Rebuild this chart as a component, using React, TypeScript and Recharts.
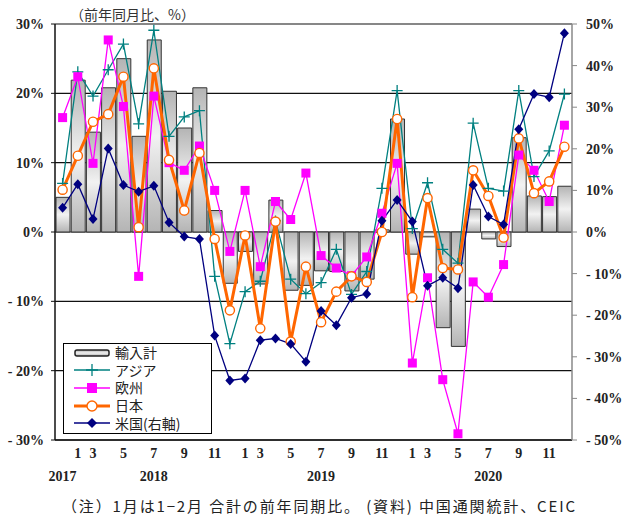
import { ComposedChart, Bar, Line, XAxis, YAxis, CartesianGrid, Legend } from 'recharts';

// 1月は1-2月合計なので、2月のカテゴリはない
const categories = [
  '2017/12',
  '2018/1', '2018/3', '2018/4', '2018/5', '2018/6', '2018/7', '2018/8', '2018/9', '2018/10', '2018/11', '2018/12',
  '2019/1', '2019/3', '2019/4', '2019/5', '2019/6', '2019/7', '2019/8', '2019/9', '2019/10', '2019/11', '2019/12',
  '2020/1', '2020/3', '2020/4', '2020/5', '2020/6', '2020/7', '2020/8', '2020/9', '2020/10', '2020/11', '2020/12',
];

const importTotal = [
  5.0, 21.9, 14.4, 20.8, 25.0, 13.8, 27.7, 20.3, 15.0, 20.8, 3.1, -7.4,
  -2.8, -7.5, 4.6, -8.4, -7.7, -5.6, -5.7, -8.5, -6.8, 0.3, 16.3,
  -3.2, -0.7, -13.8, -16.5, 3.3, -1.0, -2.1, 13.6, 5.2, 5.1, 6.6,
];
const asia = [
  7.0, 23.1, 19.6, 23.4, 27.1, 15.6, 29.1, 13.8, 16.6, 17.5, -6.4, -16.1,
  -8.6, -7.1, 1.6, -6.8, -8.9, -7.3, -2.5, -9.0, -5.7, 6.3, 20.4,
  0.5, 7.1, -2.5, -4.5, 15.7, 6.3, 5.9, 20.4, 8.0, 11.7, 19.9,
];
const europe = [
  16.5, 22.4, 9.9, 27.7, 18.1, -6.4, 19.6, 10.0, 8.9, 12.4, 6.0, -2.8,
  6.0, -5.0, 4.4, 1.8, 8.5, -3.4, -5.2, -6.3, -3.6, 2.7, 9.9,
  -18.9, -6.6, -21.3, -29.1, -7.2, -9.4, -4.7, 11.1, 8.9, 4.4, 15.4,
];
const japan = [
  6.1, 11.0, 15.9, 17.0, 22.4, 0.7, 23.6, 10.4, 3.1, 11.4, -1.0, -11.3,
  -0.5, -13.9, 1.5, -15.8, -5.0, -13.0, -8.6, -6.4, -7.2, 0.0, 16.3,
  -9.4, 4.9, -5.2, -5.4, 8.9, 5.2, -0.8, 13.5, 5.6, 7.3, 12.3,
];
// 右軸
const usa = [
  5.8, 11.5, 3.1, 20.1, 11.3, 9.7, 11.1, 2.3, -1.1, -1.7, -24.9, -35.7,
  -35.2, -26.0, -25.6, -26.9, -31.2, -19.0, -22.4, -15.8, -14.9, 2.7, 7.7,
  2.5, -12.9, -11.0, -13.5, 11.3, 3.7, 1.8, 24.7, 33.2, 32.4, 47.8,
];

const monthsShown = ['1', '3', '5', '7', '9', '11'];
const yearLabelAt: Record<string, string> = {
  '2017/12': '2017',
  '2018/7': '2018',
  '2019/7': '2019',
  '2020/7': '2020',
};
const leftTicks = [-30, -20, -10, 0, 10, 20, 30];
const rightTicks = [-50, -40, -30, -20, -10, 0, 10, 20, 30, 40, 50];

const data = categories.map((c, i) => ({
  c,
  imports: importTotal[i],
  asia: asia[i],
  europe: europe[i],
  japan: japan[i],
  usa: usa[i],
}));

const TEAL = '#008080';
const MAGENTA = '#ff00ff';
const ORANGE = '#ff6600';
const NAVY = '#000080';
const NUM_FONT = '"Liberation Serif", "DejaVu Serif", serif';
const JP_FONT = '"Noto Sans CJK JP", sans-serif';

const pct = (v: number) => (v < 0 ? `- ${Math.abs(v)}%` : `${v}%`);

const PlusDot = (p: any) => {
  const { cx, cy, index } = p;
  if (cx == null || cy == null) return <g key={`a${index}`} />;
  return (
    <path
      key={`a${index}`}
      d={`M${cx - 5.5},${cy}H${cx + 5.5}M${cx},${cy - 5.5}V${cy + 5.5}`}
      stroke={TEAL}
      strokeWidth={1.3}
    />
  );
};

const SquareDot = (p: any) => {
  const { cx, cy, index } = p;
  if (cx == null || cy == null) return <g key={`e${index}`} />;
  return <rect key={`e${index}`} x={cx - 4.5} y={cy - 4.5} width={9} height={9} fill={MAGENTA} />;
};

const CircleDot = (p: any) => {
  const { cx, cy, index } = p;
  if (cx == null || cy == null) return <g key={`j${index}`} />;
  return <circle key={`j${index}`} cx={cx} cy={cy} r={4.6} fill="#fff" stroke={ORANGE} strokeWidth={1.4} />;
};

const DiamondDot = (p: any) => {
  const { cx, cy, index } = p;
  if (cx == null || cy == null) return <g key={`u${index}`} />;
  return (
    <path
      key={`u${index}`}
      d={`M${cx},${cy - 5}L${cx + 4.5},${cy}L${cx},${cy + 5}L${cx - 4.5},${cy}Z`}
      fill={NAVY}
    />
  );
};

const MonthTick = (p: any) => {
  const { x, y, payload } = p;
  const key: string = payload.value;
  const m = key.split('/')[1];
  const yr = yearLabelAt[key];
  return (
    <g>
      {monthsShown.includes(m) && (
        <text x={x} y={y + 18} textAnchor="middle" fontFamily={NUM_FONT} fontWeight="bold" fontSize={14} fill="#222">
          {m}
        </text>
      )}
      {yr && (
        <text x={x} y={y + 41} textAnchor="middle" fontFamily={NUM_FONT} fontWeight="bold" fontSize={14} fill="#222">
          {yr}
        </text>
      )}
    </g>
  );
};

const legendItems = [
  { name: '輸入計', kind: 'bar' },
  { name: 'アジア', kind: 'plus' },
  { name: '欧州', kind: 'square' },
  { name: '日本', kind: 'circle' },
  { name: '米国(右軸)', kind: 'diamond' },
];

const LegendIcon = ({ kind }: { kind: string }) => {
  if (kind === 'bar') {
    return (
      <svg width={50} height={18} style={{ display: 'block' }}>
        <rect x={11} y={6} width={34} height={6} rx={2} fill="url(#legendGrad)" stroke="#222" strokeWidth={1.5} />
      </svg>
    );
  }
  const color = kind === 'plus' ? TEAL : kind === 'square' ? MAGENTA : kind === 'circle' ? ORANGE : NAVY;
  return (
    <svg width={50} height={18} style={{ display: 'block' }}>
      <line x1={10} y1={9} x2={46} y2={9} stroke={color} strokeWidth={kind === 'circle' ? 3 : 1.5} />
      {kind === 'plus' && <path d="M22,9H34M28,3V15" stroke={color} strokeWidth={1.3} />}
      {kind === 'square' && <rect x={23} y={4} width={10} height={10} fill={color} />}
      {kind === 'circle' && <circle cx={28} cy={9} r={5} fill="#fff" stroke={color} strokeWidth={1.4} />}
      {kind === 'diamond' && <path d="M28,4L33,9L28,14L23,9Z" fill={color} />}
    </svg>
  );
};

const LegendBox = () => (
  <div
    style={{
      width: 149,
      height: 91,
      border: '1.5px solid #000',
      background: '#fff',
      boxSizing: 'border-box',
      paddingTop: 0,
      fontFamily: JP_FONT,
      fontSize: 14,
      color: '#222',
    }}
  >
    {legendItems.map((item) => (
      <div key={item.name} style={{ display: 'flex', alignItems: 'center', height: 17.6 }}>
        <LegendIcon kind={item.kind} />
        <span
          style={{
            display: 'inline-block',
            height: 17,
            lineHeight: '17px',
            marginLeft: 1,
            whiteSpace: 'nowrap',
          }}
        >
          {item.name}
        </span>
      </div>
    ))}
  </div>
);

export default function App() {
  return (
    <div style={{ position: 'absolute', left: 0, top: 0, width: 628, height: 522, background: '#fff' }}>
      <svg width={0} height={0} style={{ position: 'absolute' }}>
        <defs>
          <linearGradient id="legendGrad" x1="0" y1="0" x2="0" y2="1">
            <stop offset="0" stopColor="#b0b0b0" />
            <stop offset="0.5" stopColor="#f0f0f0" />
            <stop offset="1" stopColor="#b0b0b0" />
          </linearGradient>
        </defs>
      </svg>
      <div
        style={{
          position: 'absolute',
          left: 70,
          top: 4,
          fontFamily: JP_FONT,
          fontSize: 14,
          color: '#333',
          whiteSpace: 'nowrap',
        }}
      >
        （前年同月比、%）
      </div>
      <ComposedChart
        width={628}
        height={490}
        data={data}
        margin={{ top: 24, right: 0, bottom: 0, left: 0 }}
        barCategoryGap={1}
      >
        <defs>
          <linearGradient id="barGrad" x1="0" y1="0" x2="0" y2="1">
            <stop offset="0" stopColor="#b4b4b4" />
            <stop offset="0.5" stopColor="#f2f2f2" />
            <stop offset="1" stopColor="#b4b4b4" />
          </linearGradient>
        </defs>
        <CartesianGrid yAxisId="left" vertical={false} stroke="#111" strokeWidth={1.2} />
        <XAxis
          dataKey="c"
          interval={0}
          tick={<MonthTick />}
          tickLine={false}
          tickSize={0}
          tickMargin={0}
          height={50}
          axisLine={{ stroke: '#111', strokeWidth: 1.5 }}
        />
        <YAxis
          yAxisId="left"
          domain={[-30, 30]}
          ticks={leftTicks}
          tickFormatter={pct}
          width={55}
          tickSize={4}
          tickMargin={7}
          axisLine={{ stroke: '#111', strokeWidth: 1.5 }}
          tickLine={{ stroke: '#111' }}
          tick={{ fontFamily: NUM_FONT, fontWeight: 'bold', fontSize: 14, fill: '#222' }}
        />
        <YAxis
          yAxisId="right"
          orientation="right"
          domain={[-50, 50]}
          ticks={rightTicks}
          tickFormatter={pct}
          width={56}
          tickSize={5}
          tickMargin={9}
          axisLine={{ stroke: '#888', strokeWidth: 1.5 }}
          tickLine={{ stroke: '#888' }}
          tick={{ fontFamily: NUM_FONT, fontWeight: 'bold', fontSize: 14, fill: '#222', textAnchor: 'start' }}
        />
        <Bar
          yAxisId="left"
          dataKey="imports"
          name="輸入計"
          fill="url(#barGrad)"
          stroke="#333"
          strokeWidth={1}
          barSize={14}
          isAnimationActive={false}
        />
        <Line
          yAxisId="left"
          dataKey="asia"
          name="アジア"
          stroke={TEAL}
          strokeWidth={1.3}
          dot={PlusDot}
          activeDot={false}
          isAnimationActive={false}
        />
        <Line
          yAxisId="left"
          dataKey="europe"
          name="欧州"
          stroke={MAGENTA}
          strokeWidth={1.3}
          dot={SquareDot}
          activeDot={false}
          isAnimationActive={false}
        />
        <Line
          yAxisId="left"
          dataKey="japan"
          name="日本"
          stroke={ORANGE}
          strokeWidth={3}
          dot={CircleDot}
          activeDot={false}
          isAnimationActive={false}
        />
        <Line
          yAxisId="right"
          dataKey="usa"
          name="米国(右軸)"
          stroke={NAVY}
          strokeWidth={1.3}
          dot={DiamondDot}
          activeDot={false}
          isAnimationActive={false}
        />
        <Legend
          layout="vertical"
          align="center"
          verticalAlign="middle"
          content={<LegendBox />}
          wrapperStyle={{ left: 63, top: 343, width: 149, height: 91 }}
        />
      </ComposedChart>
      <svg width={628} height={30} style={{ position: 'absolute', left: 0, top: 492 }}>
        <text
          x={62}
          y={20}
          textLength={513}
          lengthAdjust="spacing"
          fontFamily={JP_FONT}
          fontSize={15}
          fill="#222"
        >
          （注）1月は1−2月 合計の前年同期比。 (資料) 中国通関統計、CEIC
        </text>
      </svg>
    </div>
  );
}
